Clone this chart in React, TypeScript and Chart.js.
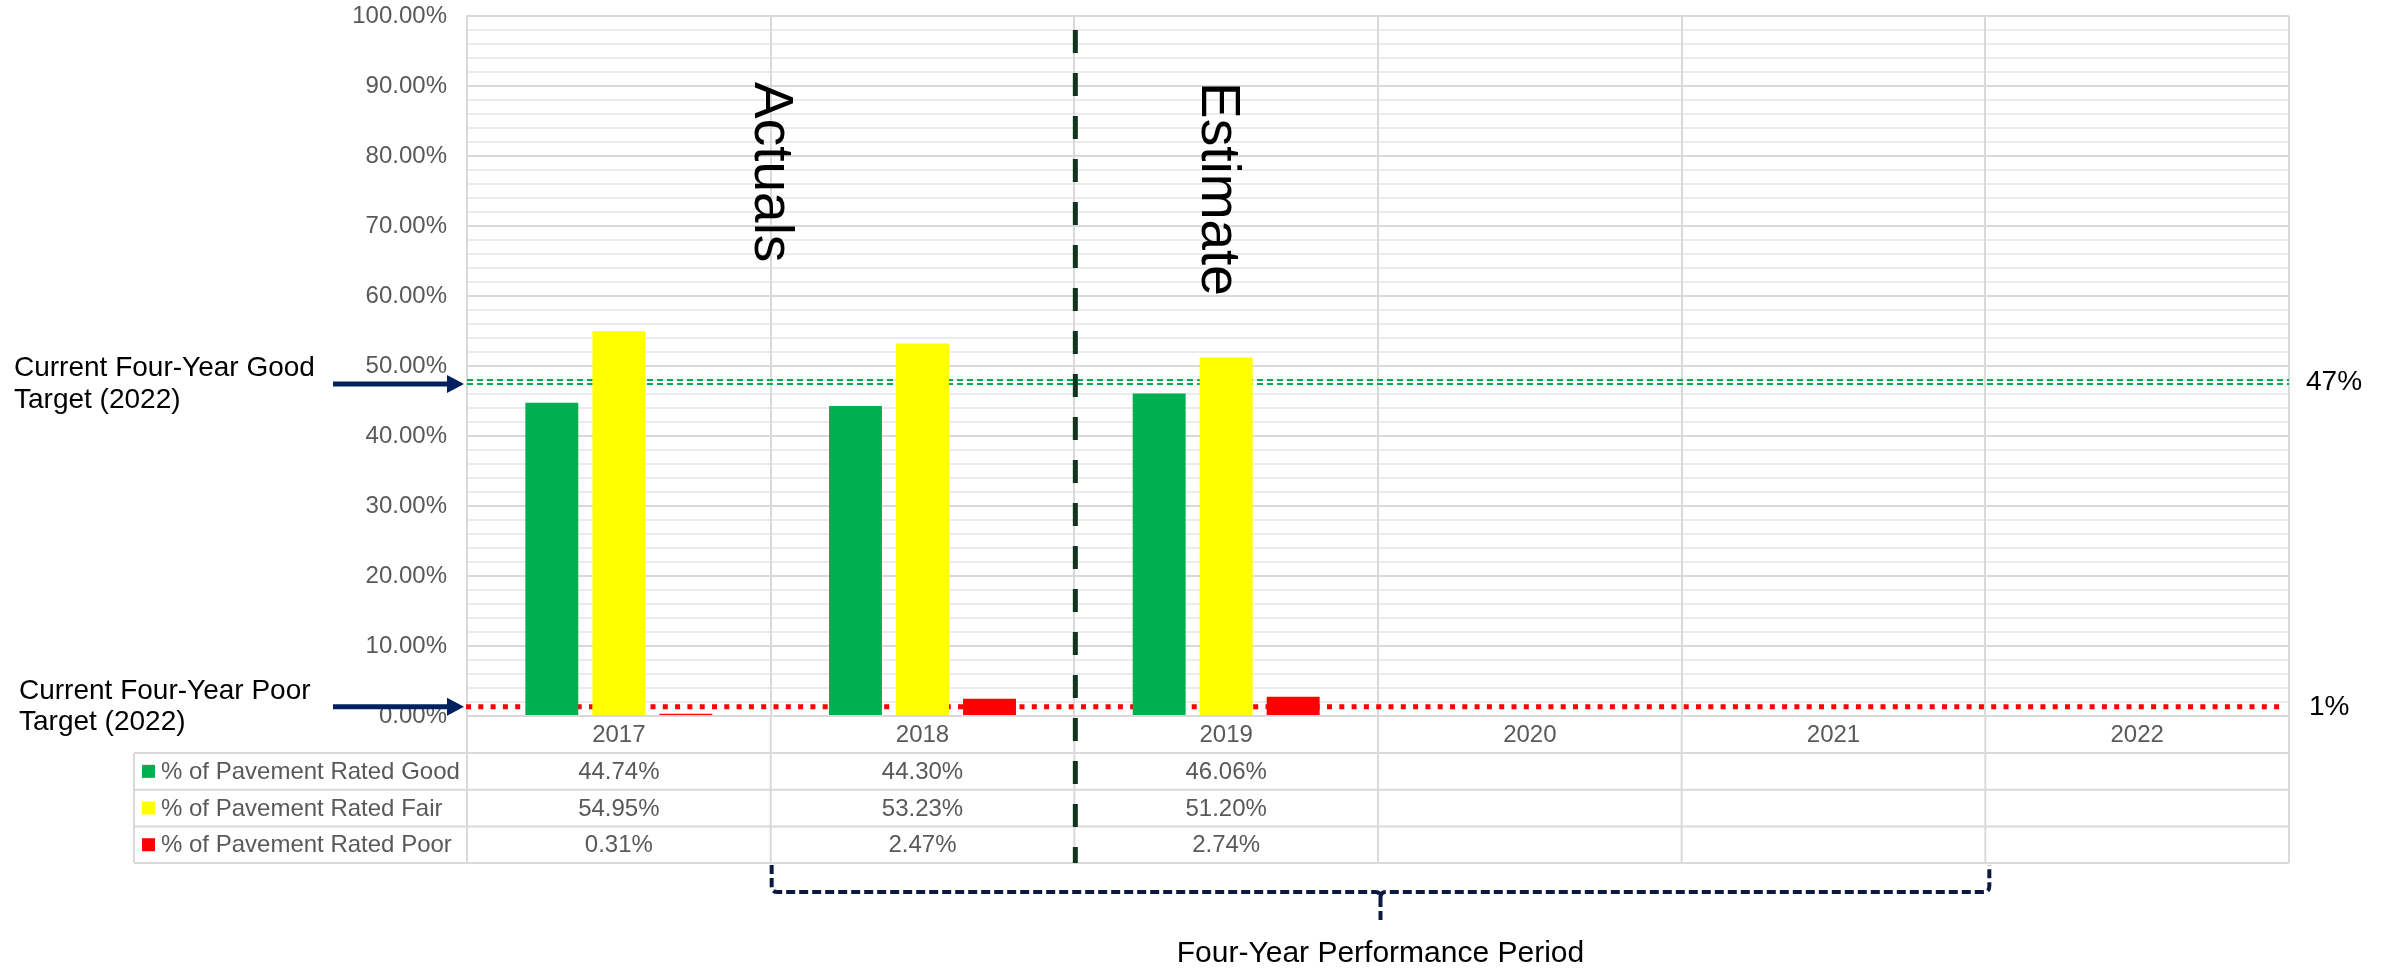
import React, { useEffect, useRef } from 'react';
import { Chart, registerables } from 'chart.js';

Chart.register(...registerables);

// ---------- data ----------
const categories = ['2017', '2018', '2019', '2020', '2021', '2022'];
const seriesLabels = ['% of Pavement Rated Good', '% of Pavement Rated Fair', '% of Pavement Rated Poor'];
const goodValues: (number | null)[] = [44.74, 44.3, 46.06, null, null, null];
const fairValues: (number | null)[] = [54.95, 53.23, 51.2, null, null, null];
const poorValues: (number | null)[] = [0.31, 2.47, 2.74, null, null, null];
const seriesColors = ['#00B050', '#FFFF00', '#FF0000'];

// axis steps
const majorStep = 10;
const minorStep = 2;

// target lines as drawn in the picture, and their labels
const goodTargetLine = 47.7;
const poorTargetLine = 1.33;
const goodTargetLabel = '47%';
const poorTargetLabel = '1%';
const goodAnnotation = ['Current Four-Year Good', 'Target (2022)'];
const poorAnnotation = ['Current Four-Year Poor', 'Target (2022)'];
const phaseLabels = ['Actuals', 'Estimate'];
const periodLabel = 'Four-Year Performance Period';

// category positions (index units) for annotations
const actualsPos = 0.5;
const estimatePos = 1.97;
const dividerPos = 1.5;
const periodStart = 0.5;
const periodEnd = 4.5;

const FONT = '"Liberation Sans", Arial, sans-serif';
const GRAY = '#595959';
const GRID = '#d9d9d9';
const MINOR_GRID = '#ebebeb';

const fmt = (v: number) => v.toFixed(2) + '%';

export default function App() {
  const ref = useRef<HTMLCanvasElement>(null);

  useEffect(() => {
    document.body.style.margin = '0';
    const canvas = ref.current;
    if (!canvas) return;

    const overlay = {
      id: 'overlay',
      beforeDraw(chart: any) {
        const { ctx, chartArea: a, scales } = chart;
        const y = scales.y;
        if (!a || !y) return;
        ctx.save();
        ctx.strokeStyle = MINOR_GRID;
        ctx.lineWidth = 2;
        for (let v = y.min; v <= y.max; v += minorStep) {
          if (Math.round(v) % majorStep === 0) continue;
          const yy = Math.round(y.getPixelForValue(v));
          ctx.beginPath();
          ctx.moveTo(a.left, yy);
          ctx.lineTo(a.right, yy);
          ctx.stroke();
        }
        ctx.restore();
      },
      beforeDatasetsDraw(chart: any) {
        const { ctx, chartArea: a, scales } = chart;
        const y = scales.y;
        ctx.save();
        // green double dotted target line
        const gy = y.getPixelForValue(goodTargetLine);
        ctx.strokeStyle = '#00B050';
        ctx.lineWidth = 2;
        ctx.setLineDash([6, 4]);
        for (const off of [-2, 2]) {
          ctx.beginPath();
          ctx.moveTo(a.left, gy + off);
          ctx.lineTo(a.right, gy + off);
          ctx.stroke();
        }
        // red dotted target line
        const py = y.getPixelForValue(poorTargetLine);
        ctx.strokeStyle = '#FF0000';
        ctx.lineWidth = 5;
        ctx.setLineDash([5, 7.3]);
        ctx.beginPath();
        ctx.moveTo(a.left - 1, py);
        ctx.lineTo(a.right - 6, py);
        ctx.stroke();
        ctx.restore();
      },
      afterDraw(chart: any) {
        const { ctx, chartArea: a, scales } = chart;
        const x = scales.x;
        const y = scales.y;
        ctx.save();

        // ---- data table ----
        const tableLeft = 134;
        const headBottom = a.bottom + 37;
        const rowH = 36.7;
        const tableBottom = headBottom + rowH * 3;
        ctx.strokeStyle = GRID;
        ctx.lineWidth = 2;
        ctx.setLineDash([]);
        for (let i = 0; i <= 3; i++) {
          const yy = headBottom + i * rowH;
          ctx.beginPath();
          ctx.moveTo(tableLeft, yy);
          ctx.lineTo(a.right, yy);
          ctx.stroke();
        }
        ctx.beginPath();
        ctx.moveTo(tableLeft, headBottom);
        ctx.lineTo(tableLeft, tableBottom);
        ctx.stroke();
        for (let i = 0; i <= categories.length; i++) {
          const xb = x.getPixelForValue(i - 0.5);
          ctx.beginPath();
          ctx.moveTo(xb, a.bottom);
          ctx.lineTo(xb, tableBottom);
          ctx.stroke();
        }
        const allValues = [goodValues, fairValues, poorValues];
        ctx.font = `24px ${FONT}`;
        ctx.textBaseline = 'middle';
        allValues.forEach((vals, s) => {
          const cy = headBottom + s * rowH + rowH / 2;
          ctx.fillStyle = seriesColors[s];
          ctx.fillRect(142, cy - 6.5, 13, 13);
          ctx.fillStyle = GRAY;
          ctx.textAlign = 'left';
          ctx.fillText(seriesLabels[s], 161, cy + 1);
          ctx.textAlign = 'center';
          vals.forEach((v, i) => {
            if (v == null) return;
            ctx.fillText(fmt(v), x.getPixelForValue(i), cy + 1);
          });
        });

        // ---- vertical divider ----
        const dx = x.getPixelForValue(dividerPos) + 1;
        ctx.strokeStyle = '#12341f';
        ctx.lineWidth = 5;
        ctx.setLineDash([23, 20]);
        ctx.beginPath();
        ctx.moveTo(dx, 30);
        ctx.lineTo(dx, tableBottom);
        ctx.stroke();
        ctx.setLineDash([]);

        // ---- phase labels (rotated) ----
        ctx.fillStyle = '#000';
        ctx.font = `55px ${FONT}`;
        ctx.textAlign = 'left';
        ctx.textBaseline = 'middle';
        const phasePos = [actualsPos, estimatePos];
        phaseLabels.forEach((t, i) => {
          const px = x.getPixelForValue(phasePos[i]);
          ctx.save();
          ctx.translate(px, 82);
          ctx.rotate(Math.PI / 2);
          ctx.fillText(t, 0, 0);
          ctx.restore();
        });

        // ---- arrows & target annotations ----
        const drawArrow = (yy: number) => {
          ctx.strokeStyle = '#002060';
          ctx.fillStyle = '#002060';
          ctx.lineWidth = 5;
          ctx.beginPath();
          ctx.moveTo(333, yy);
          ctx.lineTo(450, yy);
          ctx.stroke();
          ctx.beginPath();
          ctx.moveTo(447, yy - 9);
          ctx.lineTo(464, yy);
          ctx.lineTo(447, yy + 9);
          ctx.closePath();
          ctx.fill();
        };
        const gy = y.getPixelForValue(goodTargetLine);
        const py = y.getPixelForValue(poorTargetLine);
        drawArrow(gy + 2);
        drawArrow(py);

        ctx.fillStyle = '#000';
        ctx.font = `28px ${FONT}`;
        ctx.textAlign = 'left';
        ctx.textBaseline = 'middle';
        ctx.fillText(goodAnnotation[0], 14, gy - 14);
        ctx.fillText(goodAnnotation[1], 14, gy + 18);
        ctx.fillText(poorAnnotation[0], 19, py - 15);
        ctx.fillText(poorAnnotation[1], 19, py + 16);

        ctx.font = `28px ${FONT}`;
        ctx.fillText(goodTargetLabel, a.right + 17, gy);
        ctx.fillText(poorTargetLabel, a.right + 20, py + 1);

        // ---- brace for the performance period ----
        const bx0 = x.getPixelForValue(periodStart) + 1;
        const bx1 = x.getPixelForValue(periodEnd) + 4;
        const bmid = (bx0 + bx1) / 2;
        const top = tableBottom + 2;
        const by = tableBottom + 29;
        ctx.strokeStyle = '#0c1a40';
        ctx.lineWidth = 4;
        ctx.setLineDash([9, 4]);
        ctx.beginPath();
        ctx.moveTo(bx0, top);
        ctx.lineTo(bx0, by - 6);
        ctx.quadraticCurveTo(bx0, by, bx0 + 6, by);
        ctx.lineTo(bmid - 5, by);
        ctx.quadraticCurveTo(bmid, by, bmid, by + 6);
        ctx.lineTo(bmid, by + 28);
        ctx.moveTo(bmid, by + 6);
        ctx.quadraticCurveTo(bmid, by, bmid + 5, by);
        ctx.lineTo(bx1 - 6, by);
        ctx.quadraticCurveTo(bx1, by, bx1, by - 6);
        ctx.lineTo(bx1, top);
        ctx.stroke();
        ctx.setLineDash([]);

        ctx.fillStyle = '#000';
        ctx.font = `30px ${FONT}`;
        ctx.textAlign = 'center';
        ctx.fillText(periodLabel, bmid, 954);

        ctx.restore();
      },
    };

    const chart = new Chart(canvas, {
      type: 'bar',
      data: {
        labels: categories,
        datasets: [
          { label: seriesLabels[0], data: goodValues, backgroundColor: seriesColors[0] },
          { label: seriesLabels[1], data: fairValues, backgroundColor: seriesColors[1] },
          { label: seriesLabels[2], data: poorValues, backgroundColor: seriesColors[2] },
        ],
      },
      options: {
        responsive: false,
        animation: false,
        devicePixelRatio: 1,
        layout: { padding: { top: 16, right: 98, left: 0, bottom: 0 } },
        datasets: {
          bar: { categoryPercentage: 0.662, barPercentage: 0.79 },
        },
        plugins: {
          legend: { display: false },
          tooltip: { enabled: false },
        },
        scales: {
          x: {
            grid: { color: GRID, lineWidth: 2, drawTicks: false, offset: true },
            border: { color: GRID, width: 2 },
            ticks: { color: GRAY, font: { size: 24, family: FONT }, padding: 5 },
            afterFit(scale: any) {
              scale.height = 254;
              scale.paddingLeft = 0;
              scale.paddingRight = 0;
            },
          },
          y: {
            min: 0,
            max: 100,
            grid: { drawTicks: false, lineWidth: 2, color: GRID },
            border: { color: GRID, width: 2 },
            ticks: {
              stepSize: majorStep,
              color: GRAY,
              padding: 20,
              font: { size: 24, family: FONT },
              callback: (v: any) => Number(v).toFixed(2) + '%',
            },
            afterFit(scale: any) {
              scale.width = 467;
              scale.paddingTop = 0;
              scale.paddingBottom = 0;
            },
          },
        },
      },
      plugins: [overlay],
    } as any);

    return () => chart.destroy();
  }, []);

  return (
    <div style={{ width: 2387, height: 970, position: 'relative', background: '#fff' }}>
      <canvas ref={ref} width={2387} height={970} style={{ display: 'block', width: '2387px', height: '970px' }} />
    </div>
  );
}
